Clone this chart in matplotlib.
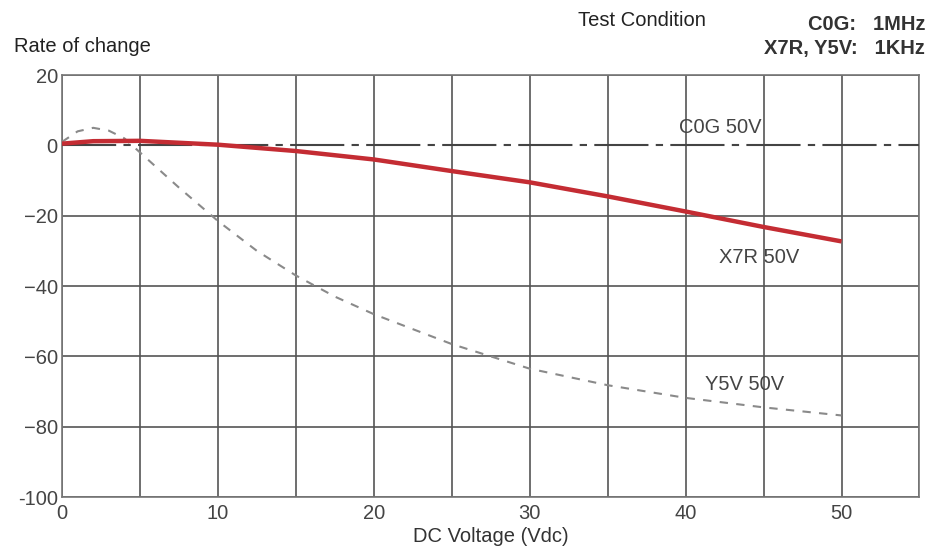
import matplotlib.pyplot as plt

plt.rcParams['font.family'] = ['Liberation Sans', 'DejaVu Sans']

# ── Data ──────────────────────────────────────────────────────────────────────
voltage = [0, 2, 5, 10, 15, 20, 25, 30, 35, 40, 45, 50]
x7r = [0.5, 1.2, 1.3, 0.2, -1.6, -4.0, -7.3, -10.5, -14.5, -18.8, -23.2, -27.3]

y5v_v = [0, 1, 2, 3, 4, 5, 7.5, 10, 12.5, 15, 17.5, 20, 25, 30, 35, 40, 45, 50]
y5v = [1.0, 4.0, 5.0, 4.2, 2.0, -2.0, -12.0, -21.5, -30.0, -37.0, -43.0, -48.0,
       -56.5, -63.5, -68.2, -71.8, -74.5, -76.8]

c0g_v = [0, 55]
c0g = [0, 0]

xticks = list(range(0, 56, 5))
xtick_labels = ['0', '', '10', '', '20', '', '30', '', '40', '', '50', '']
yticks = [20, 0, -20, -40, -60, -80, -100]
ytick_labels = ['20', '0', '\u221220', '\u221240', '\u221260', '\u221280', '-100']

# ── Plot ─────────────────────────────────────────────────────────────────────
fig = plt.figure(figsize=(9.3, 5.48), dpi=100)
ax = fig.add_axes([0.0667, 0.093, 0.922, 0.77])

ax.plot(c0g_v, c0g, color='#444444', linewidth=1.5, dashes=(26, 3.5, 3.5, 3.5), zorder=3)
ax.plot(voltage, x7r, color='#c42c33', linewidth=3.2, solid_capstyle='butt', zorder=4)
ax.plot(y5v_v, y5v, color='#8a8a8a', linewidth=1.5, dashes=(4, 4), zorder=3)

ax.set_xlim(0, 55)
ax.set_ylim(-100, 20)
ax.set_xticks(xticks)
ax.set_xticklabels(xtick_labels)
ax.set_yticks(yticks)
ax.set_yticklabels(ytick_labels)
ax.tick_params(length=0, labelsize=14.5, colors='#444444')
ax.tick_params(axis='y', pad=3)
ax.tick_params(axis='x', pad=5)
ax.grid(True, color='#555555', linewidth=1.2)
# the C0G line stands in for the 0 % grid line
ax.get_ygridlines()[1].set_visible(False)
for s in ax.spines.values():
    s.set_color('#777777')
    s.set_linewidth(1.2)

ax.set_xlabel("DC Voltage (Vdc)", fontsize=14.5, color='#333333', labelpad=3)

ax.text(42.2, 5, "C0G 50V", fontsize=14.5, color='#444444', ha='center', va='center')
ax.text(44.7, -31.8, "X7R 50V", fontsize=14.5, color='#444444', ha='center', va='center')
ax.text(43.8, -68, "Y5V 50V", fontsize=14.5, color='#444444', ha='center', va='center')

fig.text(0.015, 0.915, "Rate of change", fontsize=14.5, color='#222222', va='center')
fig.text(0.69, 0.962, "Test Condition", fontsize=14.5, color='#222222', ha='center', va='center')
fig.text(0.995, 0.955, "C0G:   1MHz", fontsize=14.5, fontweight='bold', color='#333333',
         ha='right', va='center')
fig.text(0.995, 0.912, "X7R, Y5V:   1KHz", fontsize=14.5, fontweight='bold', color='#333333',
         ha='right', va='center')

fig.savefig('out.png', dpi=100, facecolor='white')
